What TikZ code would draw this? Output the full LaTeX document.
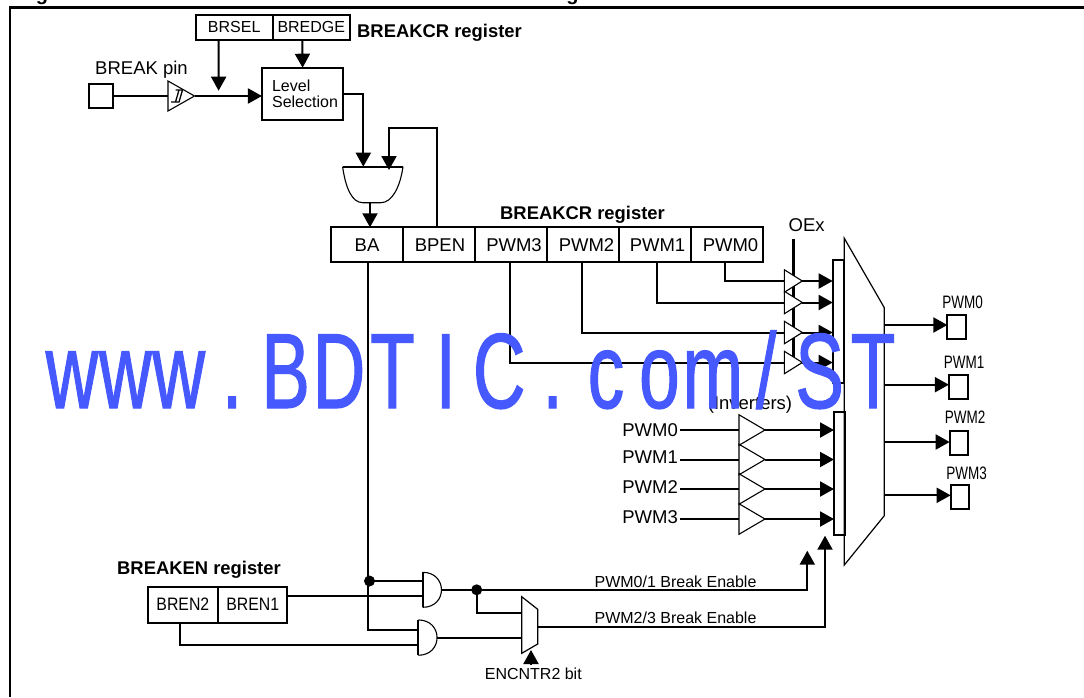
\documentclass[tikz,border=0pt]{standalone}
\usepackage{fontspec}
\setmainfont{Liberation Sans}
\newfontfamily\narrowfont[FakeStretch=.75]{Liberation Sans}
\newfontfamily\brenfont[FakeStretch=.88]{Liberation Sans}
\newfontfamily\markfont[FakeStretch=.68,FakeBold=1]{Liberation Sans}
\usetikzlibrary{arrows.meta,shapes.geometric}
\definecolor{markblue}{HTML}{4559FF}
\tikzset{
  wire/.style={line width=2pt},
  arr/.style={wire,-{Triangle[length=14pt,width=15pt]}},
  cell/.style={draw,line width=2pt,inner sep=0,outer sep=0,font=\fontsize{18.5}{20}\selectfont},
  txt/.style={inner sep=0,font=\fontsize{18.5}{20}\selectfont},
  smalltxt/.style={inner sep=0,font=\fontsize{16}{16}\selectfont},
  boldtxt/.style={inner sep=0,anchor=base,font=\fontsize{18.4}{20}\selectfont\bfseries},
  padtxt/.style={inner sep=0,font=\fontsize{18}{20}\narrowfont},
  buf/.style={draw,fill=white,line width=1.1pt,isosceles triangle,isosceles triangle stretches,
    inner sep=0,outer sep=0,anchor=west},
  gate/.style={inner sep=0,outer sep=0},
  thin line/.style={line width=1.1pt}
}
\begin{document}
\begin{tikzpicture}[x=1pt,y=-1pt]
\useasboundingbox (0,0) rectangle (1084,697);
\fill[white] (0,0) rectangle (1084,697);
% title cut off by the top of the page
\node[inner sep=0,anchor=base,font=\fontsize{20}{20}\selectfont\bfseries] (titlea) at (42,0) {g};
\node[inner sep=0,anchor=base,font=\fontsize{20}{20}\selectfont\bfseries] (titleb) at (572.5,0) {g};
\draw[line width=2.4pt] (1084,7.5)--(10,7.5)--(10,697);

% upper register and level selection
\node[cell,smalltxt,draw,line width=2pt,minimum width=77pt,minimum height=25.6pt] (brsel) at (234.2,27.4) {BRSEL};
\node[cell,smalltxt,draw,line width=2pt,minimum width=77.3pt,minimum height=25.6pt] (bredge) at (311.3,27.4) {BREDGE};
\node[boldtxt,anchor=base west] (crtop) at (357,37.5) {BREAKCR register};
\node[txt,anchor=base] (pinlbl) at (141.5,74.5) {BREAK pin};
\node[cell,minimum width=24pt,minimum height=24pt] (pin) at (101,96) {};
\node[buf,minimum height=26.5pt,minimum width=30pt] (pinbuf) at (168,96) {};
\draw[line width=1.3pt] (171,102)--(175.5,102)--(179,90)--(183,90) (175.5,102)--(179,102)--(182.5,90) (175.5,90)--(179,90);
\node[cell,smalltxt,draw,line width=2pt,minimum width=81.3pt,minimum height=52pt,text width=61pt,align=left] (level) at (302.6,93.7) {Level\\Selection};
\coordinate (selend) at (218.6,90.7);
\draw[wire] (pin.east)--(pinbuf.west);
\draw[arr] (pinbuf.east)--(level.west |- pinbuf.east);
\draw[arr] ([xshift=-15.5pt]brsel.south)--(selend);
\draw[arr] ([xshift=-9pt]bredge.south)--(level.north);

% main register
\foreach \nm/\lbl/\off [count=\i from 0] in {ba/BA/0,bpen/BPEN/2,pwmd/PWM3/6,pwmc/PWM2/7,pwmb/PWM1/5,pwma/PWM0/7}
  \node[cell,minimum width=72pt,minimum height=35pt] (\nm) at (367+72*\i,244.8) {\kern\off pt\lbl};
\node[boldtxt] (crmain) at (582.5,219.5) {BREAKCR register};

% and gate above BA
\node[gate,minimum width=60.4pt,minimum height=36pt] (andbrk) at (372.8,184.7) {};
\draw[thin line] (andbrk.north west) .. controls +(3,21) and +(-11,0) .. ([xshift=-10pt]andbrk.south)
  -- ([xshift=8pt]andbrk.south) .. controls +(11,0) and +(-3,21) .. (andbrk.north east);
\draw[wire] (andbrk.north west)--(andbrk.north east);
\coordinate (andbrka) at (363.3,166.7);
\coordinate (andbrkb) at (389,170);
\coordinate (fbk) at (389,128);
\coordinate (brkout) at (370,202.7);
\draw[arr] (level.east) -| (andbrka);
\draw[arr] ([xshift=-2pt]bpen.north) |- (fbk) -- (andbrkb);
\draw[arr] (brkout)--(brkout |- ba.north);

% big mux and the two latches
\draw[line width=1.2pt] (844.3,238.3)--(884.3,307.7)--(884.3,515.7)--(844.3,565)--cycle;
\coordinate (muxe) at (884.3,400);
\node[cell,minimum width=11.6pt,minimum height=123.3pt] (latcha) at (838.5,321.6) {};
\node[cell,minimum width=11pt,minimum height=123.3pt] (latchb) at (839.5,473.3) {};

% output enable buffers
\node[txt] (oelbl) at (806.7,225) {OEx};
\coordinate (oetop) at (793.3,239.3);
\coordinate (oebot) at (793.3,357);
\draw[line width=2.5pt] (oetop)--(oebot);
\foreach \i/\y in {a/281,b/302.5,c/332.5,d/362.5}{
  \node[buf,minimum height=18pt,minimum width=22.5pt] (oe\i) at (784.3,\y) {};
  \draw[arr] (oe\i.east)--(latcha.west |- oe\i.east);
}
\draw[wire] ([xshift=-2pt]pwma.south) |- (oea.west);
\draw[wire] ([xshift=2pt]pwmb.south) |- (oeb.west);
\draw[wire] ([xshift=-1pt]pwmc.south) |- (oec.west);
\draw[wire] ([xshift=-1pt]pwmd.south) |- (oed.west);

% inverters
\node[txt] (invlbl) at (750,405) {(Inverters)};
\foreach \i/\lbl/\y/\ly in {a/PWM0/430/430,b/PWM1/459.5/457.5,c/PWM2/489/487,d/PWM3/519/517}{
  \node[txt,anchor=east] (in\i) at (678,\ly) {\lbl};
  \node[buf,fill=none,minimum height=26pt,minimum width=30.5pt] (inv\i) at (739,\y) {};
  \draw[wire] ([xshift=2pt]in\i.east |- inv\i.west)--(inv\i.west);
  \draw[arr] (inv\i.east)--(latchb.west |- inv\i.east);
}

% output pads
\foreach \i/\lbl/\x/\y/\wy/\lx/\ly in {a/PWM0/956.7/327/325/962.7/302.7,b/PWM1/958.2/386.8/384.7/964/362.7,c/PWM2/959/443/442/965/417.3,d/PWM3/960/497/495.3/966.7/473.3}{
  \node[cell,minimum width=18.7pt,minimum height=24pt] (pad\i) at (\x,\y) {};
  \node[padtxt] (pad\i txt) at (\lx,\ly) {\lbl};
  \draw[arr] (muxe |- 0,\wy)--(pad\i.west |- 0,\wy);
}

% break enable logic
\node[boldtxt] (enlbl) at (199,574.5) {BREAKEN register};
\node[cell,font=\fontsize{18}{20}\brenfont,minimum width=70.3pt,minimum height=36pt] (brenb) at (182.9,604.7) {BREN2};
\node[cell,font=\fontsize{18}{20}\brenfont,minimum width=69.3pt,minimum height=36pt] (brena) at (252.7,604.7) {BREN1};
\node[gate,minimum width=19.6pt,minimum height=35pt] (andhi) at (432.5,589.8) {};
\node[gate,minimum width=18.4pt,minimum height=35.3pt] (andlo) at (427.5,637.6) {};
\foreach \g in {andhi,andlo}{
  \draw[thin line] (\g.north west) .. controls +(25,0) and +(25,0) .. (\g.south west);
  \draw[wire] (\g.south west)--(\g.north west);
}
\node[gate,minimum width=16pt,minimum height=56.6pt] (muxenc) at (529.7,625) {};
\draw[line width=1.2pt] (muxenc.north west)--([yshift=-12.6pt]muxenc.north east)--([yshift=9.3pt]muxenc.south east)--(muxenc.south west)--cycle;
\node[fill,circle,inner sep=0,minimum size=11pt] (badot) at (369.5,581) {};
\node[fill,circle,inner sep=0,minimum size=11pt] (hidot) at (476.7,589.8) {};
\coordinate (andhia) at (422.7,581);
\coordinate (andhib) at (422.7,595.7);
\coordinate (andloa) at (418.3,630);
\coordinate (andlob) at (418.3,645);
\coordinate (muxa) at (521.7,613.3);
\coordinate (muxo) at (537.7,627);
\coordinate (enhi) at (807.3,550.7);
\coordinate (enlo) at (825,535.7);
\draw[wire] ([xshift=1pt]ba.south) |- (andloa);
\draw[wire] (badot.center)--(andhia);
\draw[wire] (brena.east |- andhib)--(andhib);
\draw[wire] ([xshift=-3pt]brenb.south) |- (andlob);
\draw[wire] (andhi.east)--(hidot.center);
\draw[wire] (hidot.center) |- (muxa);
\draw[wire] (andlo.east)--(muxenc.west |- andlo.east);
\draw[arr] (hidot.center) -| (enhi);
\draw[arr] (muxo) -| (enlo);
\node[smalltxt] (enhilbl) at (675.5,581.5) {PWM0/1 Break Enable};
\node[smalltxt] (enlolbl) at (675.5,618) {PWM2/3 Break Enable};
\node[smalltxt,anchor=base] (encbit) at (533.3,679) {ENCNTR2 bit};
\coordinate (encs) at (531,664);
\coordinate (enct) at (531,650);
\draw[arr] (encs)--(enct);

% watermark over everything
\foreach \c [count=\i from 0] in {w,w,w,.,B,D,T,I,C,.,c,o,m,/,S,T}
  \node[inner sep=0,anchor=base,text=markblue,font=\fontsize{107}{107}\markfont] (mark\i) at (72+53.4*\i,408) {\c};
\end{tikzpicture}
\end{document}
